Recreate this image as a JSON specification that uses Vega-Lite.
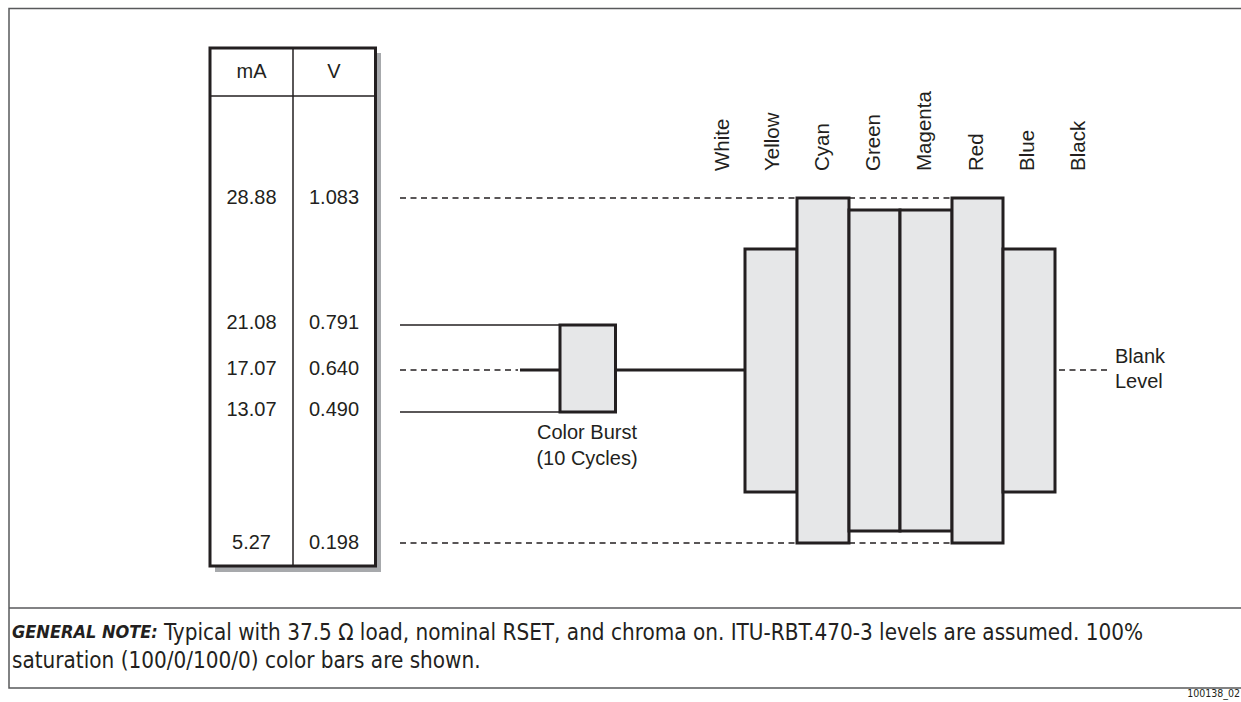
{
  "$schema": "https://vega.github.io/schema/vega-lite/v6.json",
  "width": 1241,
  "height": 702,
  "padding": 0,
  "autosize": "none",
  "background": "white",
  "config": {"view": {"stroke": null}},
  "datasets": {
    "frame": [{"x": 9, "y": 8.5, "x2": 1262, "y2": 688}],
    "shadow": [{"x": 215, "y": 53, "x2": 381, "y2": 572}],
    "table": [{"x": 210, "y": 48, "x2": 375.5, "y2": 566}],
    "hlines": [
      {"x": 9, "x2": 1262, "y": 608},
      {"x": 210, "x2": 375.5, "y": 96}
    ],
    "vlines": [{"x": 293, "y": 48, "y2": 566}],
    "dashed": [
      {"x": 400, "x2": 797, "y": 198},
      {"x": 849, "x2": 952, "y": 198},
      {"x": 400, "x2": 797, "y": 543},
      {"x": 849, "x2": 952, "y": 543},
      {"x": 400, "x2": 518, "y": 370},
      {"x": 1059, "x2": 1107, "y": 370}
    ],
    "thin": [
      {"x": 400, "x2": 560, "y": 325},
      {"x": 400, "x2": 560, "y": 412}
    ],
    "thick": [
      {"x": 520, "x2": 560, "y": 370},
      {"x": 615, "x2": 745, "y": 370}
    ],
    "bars": [
      {"bar": "Yellow", "x": 745, "x2": 797, "y": 249, "y2": 492},
      {"bar": "Cyan", "x": 797, "x2": 849, "y": 198, "y2": 543},
      {"bar": "Green", "x": 849, "x2": 900, "y": 210, "y2": 531},
      {"bar": "Magenta", "x": 900, "x2": 952, "y": 210, "y2": 531},
      {"bar": "Red", "x": 952, "x2": 1003, "y": 198, "y2": 543},
      {"bar": "Blue", "x": 1003, "x2": 1055, "y": 249, "y2": 492},
      {"bar": "Burst", "x": 560, "x2": 615.5, "y": 325, "y2": 412}
    ],
    "tbl": [
      {"t": "mA", "x": 251.5, "y": 72},
      {"t": "V", "x": 334, "y": 72},
      {"t": "28.88", "x": 251.5, "y": 198},
      {"t": "1.083", "x": 334, "y": 198},
      {"t": "21.08", "x": 251.5, "y": 323},
      {"t": "0.791", "x": 334, "y": 323},
      {"t": "17.07", "x": 251.5, "y": 369},
      {"t": "0.640", "x": 334, "y": 369},
      {"t": "13.07", "x": 251.5, "y": 410},
      {"t": "0.490", "x": 334, "y": 410},
      {"t": "5.27", "x": 251.5, "y": 543},
      {"t": "0.198", "x": 334, "y": 543},
      {"t": "Color Burst", "x": 587, "y": 433},
      {"t": "(10 Cycles)", "x": 587, "y": 459}
    ],
    "lbl": [
      {"t": "White", "x": 723, "y": 171},
      {"t": "Yellow", "x": 773, "y": 171},
      {"t": "Cyan", "x": 823, "y": 171},
      {"t": "Green", "x": 874, "y": 171},
      {"t": "Magenta", "x": 925, "y": 171},
      {"t": "Red", "x": 977, "y": 171},
      {"t": "Blue", "x": 1028, "y": 171},
      {"t": "Black", "x": 1079, "y": 171}
    ],
    "left": [
      {"t": "Blank", "x": 1115, "y": 357},
      {"t": "Level", "x": 1115, "y": 382}
    ],
    "noteb": [{"t": "GENERAL NOTE:", "x": 12, "y": 633}],
    "note": [
      {"t": "Typical with 37.5 Ω load, nominal RSET, and chroma on. ITU-RBT.470-3 levels are assumed. 100%", "x": 164, "y": 633},
      {"t": "saturation (100/0/100/0) color bars are shown.", "x": 12, "y": 661}
    ],
    "ident": [{"t": "100138_02", "x": 1240, "y": 694}]
  },
  "encoding": {
    "x": {"field": "x", "type": "quantitative", "scale": {"domain": [0, 1241], "nice": false, "zero": false}, "axis": null},
    "y": {"field": "y", "type": "quantitative", "scale": {"domain": [0, 702], "nice": false, "zero": false, "reverse": true}, "axis": null}
  },
  "layer": [
    {"data": {"name": "frame"}, "mark": {"type": "rect", "filled": false, "stroke": "#58595b", "strokeWidth": 1.5},
     "encoding": {"x2": {"field": "x2"}, "y2": {"field": "y2"}}},
    {"data": {"name": "hlines"}, "transform": [{"filter": "datum.y > 200"}], "mark": {"type": "rule", "stroke": "#58595b", "strokeWidth": 1.5},
     "encoding": {"x2": {"field": "x2"}}},
    {"data": {"name": "shadow"}, "mark": {"type": "rect", "fill": "#a7a9ac"},
     "encoding": {"x2": {"field": "x2"}, "y2": {"field": "y2"}}},
    {"data": {"name": "table"}, "mark": {"type": "rect", "fill": "white", "stroke": "#231f20", "strokeWidth": 3},
     "encoding": {"x2": {"field": "x2"}, "y2": {"field": "y2"}}},
    {"data": {"name": "vlines"}, "mark": {"type": "rule", "stroke": "#231f20", "strokeWidth": 1.5},
     "encoding": {"y2": {"field": "y2"}}},
    {"data": {"name": "hlines"}, "transform": [{"filter": "datum.y < 200"}], "mark": {"type": "rule", "stroke": "#231f20", "strokeWidth": 1.5},
     "encoding": {"x2": {"field": "x2"}}},
    {"data": {"name": "dashed"}, "mark": {"type": "rule", "stroke": "#231f20", "strokeWidth": 1.5, "strokeDash": [6, 4.5]},
     "encoding": {"x2": {"field": "x2"}}},
    {"data": {"name": "thin"}, "mark": {"type": "rule", "stroke": "#231f20", "strokeWidth": 1.3},
     "encoding": {"x2": {"field": "x2"}}},
    {"data": {"name": "thick"}, "mark": {"type": "rule", "stroke": "#231f20", "strokeWidth": 3},
     "encoding": {"x2": {"field": "x2"}}},
    {"data": {"name": "bars"}, "mark": {"type": "rect", "fill": "#e6e7e8", "stroke": "#231f20", "strokeWidth": 3},
     "encoding": {"x2": {"field": "x2"}, "y2": {"field": "y2"}}},
    {"data": {"name": "tbl"}, "mark": {"type": "text", "font": "Liberation Sans", "fontSize": 20, "align": "center", "baseline": "middle", "color": "#231f20"},
     "encoding": {"text": {"field": "t"}}},
    {"data": {"name": "lbl"}, "mark": {"type": "text", "font": "Liberation Sans", "fontSize": 20.5, "align": "left", "baseline": "middle", "angle": 270, "color": "#231f20"},
     "encoding": {"text": {"field": "t"}}},
    {"data": {"name": "left"}, "mark": {"type": "text", "font": "Liberation Sans", "fontSize": 20, "align": "left", "baseline": "middle", "color": "#231f20"},
     "encoding": {"text": {"field": "t"}}},
    {"data": {"name": "noteb"}, "mark": {"type": "text", "font": "DejaVu Sans Condensed, Liberation Sans", "fontSize": 18, "fontWeight": "bold", "fontStyle": "italic", "align": "left", "baseline": "middle", "color": "#231f20"},
     "encoding": {"text": {"field": "t"}}},
    {"data": {"name": "note"}, "mark": {"type": "text", "font": "DejaVu Sans Condensed, Liberation Sans", "fontSize": 22.3, "align": "left", "baseline": "middle", "color": "#231f20"},
     "encoding": {"text": {"field": "t"}}},
    {"data": {"name": "ident"}, "mark": {"type": "text", "font": "DejaVu Sans Condensed, Liberation Sans", "fontSize": 10.5, "align": "right", "baseline": "middle", "color": "#231f20"},
     "encoding": {"text": {"field": "t"}}}
  ]
}
